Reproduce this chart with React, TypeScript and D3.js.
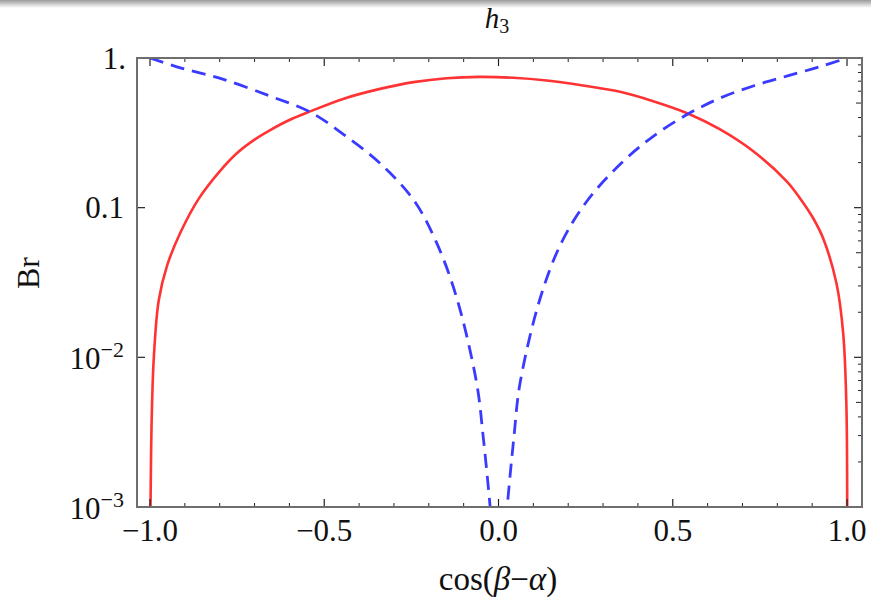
import React from "react";
import * as d3 from "d3";

const redX = [-0.9985, -0.995, -0.989, -0.975, -0.951, -0.913, -0.86, -0.8, -0.75, -0.7, -0.655, -0.6, -0.54, -0.444, -0.34, -0.244, -0.149, -0.053, 0.042, 0.138, 0.234, 0.349, 0.444, 0.545, 0.636, 0.731, 0.827, 0.867, 0.903, 0.932, 0.97, 0.989, 0.998, 1.0005];
const redY = [0.001, 0.004, 0.01, 0.024, 0.041, 0.068, 0.115, 0.175, 0.232, 0.285, 0.33, 0.385, 0.44, 0.535, 0.622, 0.69, 0.733, 0.748, 0.738, 0.708, 0.66, 0.594, 0.514, 0.424, 0.333, 0.238, 0.15, 0.114, 0.085, 0.062, 0.031, 0.0145, 0.005, 0.001];

const blueLeftX = [-1.0, -0.913, -0.798, -0.655, -0.54, -0.444, -0.34, -0.244, -0.18, -0.12, -0.0626, -0.0436, -0.024, -0.021];
const blueLeftY = [1.0, 0.86, 0.73, 0.556, 0.435, 0.308, 0.198, 0.113, 0.06, 0.025, 0.0067, 0.0029, 0.001, 0.0008];
const blueRightX = [0.022, 0.025, 0.044, 0.0617, 0.12, 0.18, 0.253, 0.349, 0.444, 0.545, 0.636, 0.731, 0.827, 0.922, 1.0];
const blueRightY = [0.0008, 0.001, 0.0029, 0.0067, 0.025, 0.058, 0.11, 0.195, 0.3, 0.424, 0.54, 0.65, 0.756, 0.875, 1.0];

const xMajor = [-1.0, -0.5, 0.0, 0.5, 1.0];
const xMajorLabels = ["\u22121.0", "\u22120.5", "0.0", "0.5", "1.0"];
const yMajor = [1, 0.1, 0.01, 0.001];

const W = 871, H = 598;
const L = 137, R = 862, T = 58, B = 507;

export default function App() {
  const x = d3.scaleLinear().domain([-1.0373, 1.043]).range([L, R]);
  const y = d3.scaleLog().domain([0.001, 1]).range([B, T]);

  const line = d3.line<[number, number]>()
    .x(d => x(d[0]))
    .y(d => y(d[1]))
    .curve(d3.curveCatmullRom.alpha(0.5));

  const red = line(redX.map((v, i) => [v, redY[i]] as [number, number])) || "";
  const bl = line(blueLeftX.map((v, i) => [v, blueLeftY[i]] as [number, number])) || "";
  const br = line(blueRightX.map((v, i) => [v, blueRightY[i]] as [number, number])) || "";

  const xMinor = d3.range(-10, 11).map(i => i / 10).filter(v => Math.abs(v * 2 - Math.round(v * 2)) > 1e-6);
  const yMinor: number[] = [];
  for (let e = -3; e < 0; e++) for (let m = 2; m <= 9; m++) yMinor.push(m * Math.pow(10, e));

  const tickColor = "#222";
  const font = "'Liberation Serif', 'DejaVu Serif', serif";

  return (
    <svg width={W} height={H} style={{ position: "absolute", left: 0, top: 0, background: "#fff" }} fontFamily={font}>
      <defs>
        <linearGradient id="topShade" x1="0" y1="0" x2="0" y2="1">
          <stop offset="0" stopColor="#9a9a9a" />
          <stop offset="1" stopColor="#ffffff" />
        </linearGradient>
        <clipPath id="plotClip">
          <rect x={L} y={T} width={R - L} height={B - T} />
        </clipPath>
      </defs>
      <rect x={0} y={0} width={W} height={8} fill="url(#topShade)" />

      <g clipPath="url(#plotClip)">
        <path d={red} fill="none" stroke="#ff3333" strokeWidth={2.6} />
        <path d={bl} fill="none" stroke="#3b3bff" strokeWidth={2.8} strokeDasharray="14 8" />
        <path d={br} fill="none" stroke="#3b3bff" strokeWidth={2.8} strokeDasharray="14 8" />
      </g>

      {xMajor.map(v => (
        <g key={"xM" + v}>
          <line x1={x(v)} x2={x(v)} y1={B} y2={B - 8} stroke={tickColor} strokeWidth={1.2} />
          <line x1={x(v)} x2={x(v)} y1={T} y2={T + 8} stroke={tickColor} strokeWidth={1.2} />
        </g>
      ))}
      {xMinor.map(v => (
        <g key={"xm" + v}>
          <line x1={x(v)} x2={x(v)} y1={B} y2={B - 4} stroke={tickColor} strokeWidth={1} />
          <line x1={x(v)} x2={x(v)} y1={T} y2={T + 4} stroke={tickColor} strokeWidth={1} />
        </g>
      ))}
      {yMajor.map(v => (
        <g key={"yM" + v}>
          <line x1={L} x2={L + 8} y1={y(v)} y2={y(v)} stroke={tickColor} strokeWidth={1.2} />
          <line x1={R} x2={R - 8} y1={y(v)} y2={y(v)} stroke={tickColor} strokeWidth={1.2} />
        </g>
      ))}
      {yMinor.map(v => {
        const m = Math.round(v / Math.pow(10, Math.floor(Math.log10(v) + 1e-9)));
        const len = m === 5 ? 6 : 4;
        return <line key={"ym" + v} x1={R} x2={R - len} y1={y(v)} y2={y(v)} stroke={tickColor} strokeWidth={1} />;
      })}

      <rect x={L} y={T} width={R - L} height={B - T} fill="none" stroke="#6e6e6e" strokeWidth={2} />

      {xMajor.map((v, i) => (
        <text key={"xl" + v} x={x(v)} y={541} textAnchor="middle" fontSize={31} fill="#111">{xMajorLabels[i]}</text>
      ))}
      <text x={126} y={y(1) + 11} textAnchor="end" fontSize={31} fill="#111">1.</text>
      <text x={124} y={y(0.1) + 10} textAnchor="end" fontSize={31} fill="#111">0.1</text>
      {[0.01, 0.001].map((v, i) => (
        <text key={"yl" + v} x={124} y={y(v) + 12} textAnchor="end" fontSize={31} fill="#111">
          10<tspan fontSize={22} dy={-12}>{i === 0 ? "\u22122" : "\u22123"}</tspan>
        </text>
      ))}

      <text x={498} y={590} textAnchor="middle" fontSize={33} fill="#111">
        cos(<tspan fontStyle="italic">β</tspan>−<tspan fontStyle="italic">α</tspan>)
      </text>
      <text transform={`translate(39,273) rotate(-90)`} textAnchor="middle" fontSize={32} fill="#111">Br</text>
      <text x={497} y={28} textAnchor="middle" fontSize={29} fill="#111">
        <tspan fontStyle="italic">h</tspan><tspan fontSize={20} dy={5}>3</tspan>
      </text>
    </svg>
  );
}
